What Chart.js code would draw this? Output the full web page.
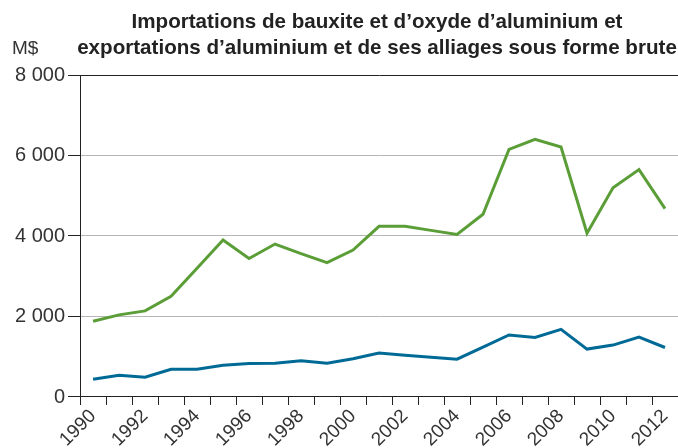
<!DOCTYPE html>
<html>
<head>
<meta charset="utf-8">
<script src="https://cdn.jsdelivr.net/npm/chart.js@4"></script>
<style>
  html, body { margin: 0; padding: 0; background: #fff; overflow: hidden; }
  #wrap { width: 678px; height: 448px; position: relative; }
</style>
</head>
<body>
<div id="wrap"><canvas id="c"></canvas></div>
<script>
const years = ['1990','1991','1992','1993','1994','1995','1996','1997','1998','1999','2000','2001','2002','2003','2004','2005','2006','2007','2008','2009','2010','2011','2012'];
const exportsAlu = [1880, 2040, 2140, 2500, 3200, 3900, 3440, 3800, 3560, 3340, 3650, 4240, 4240, 4140, 4040, 4540, 6150, 6400, 6210, 4070, 5200, 5650, 4680];
const importsBaux = [440, 540, 490, 690, 690, 790, 830, 840, 900, 840, 950, 1090, 1040, 990, 940, 1240, 1540, 1480, 1680, 1190, 1290, 1490, 1230];
const yTicks = [0, 2000, 4000, 6000, 8000];
const titleLines = ['Importations de bauxite et d\u2019oxyde d\u2019aluminium et', 'exportations d\u2019aluminium et de ses alliages sous forme brute'];
const unitLabel = 'M$';

const fmt = v => String(v).replace(/\B(?=(\d{3})+(?!\d))/g, '\u00a0');

const titlePlugin = {
  id: 'customTitle',
  afterDraw(chart) {
    const ctx = chart.ctx;
    const ca = chart.chartArea;
    ctx.save();
    ctx.fillStyle = '#222';
    ctx.textBaseline = 'alphabetic';
    ctx.textAlign = 'center';
    ctx.font = 'bold 20.6px "Liberation Sans", Arial, sans-serif';
    const cx = Math.min((ca.left + ca.right) / 2, 377);
    ctx.fillText(titleLines[0], cx, 28);
    ctx.fillText(titleLines[1], cx, 54);
    ctx.textAlign = 'left';
    ctx.font = '19px "Liberation Sans", Arial, sans-serif';
    ctx.fillStyle = '#333';
    ctx.fillText(unitLabel, 12, 54);
    ctx.restore();
  }
};

new Chart(document.getElementById('c'), {
  type: 'line',
  data: {
    labels: years,
    datasets: [
      { label: 'Exportations', data: exportsAlu, borderColor: '#5b9e38', borderWidth: 3, pointRadius: 0, tension: 0, fill: false },
      { label: 'Importations', data: importsBaux, borderColor: '#006a97', borderWidth: 3, pointRadius: 0, tension: 0, fill: false }
    ]
  },
  options: {
    responsive: true,
    maintainAspectRatio: false,
    animation: false,
    layout: { padding: { left: 12, right: -2, top: 75, bottom: -3 } },
    plugins: { legend: { display: false }, title: { display: false }, tooltip: { enabled: false } },
    scales: {
      x: {
        type: 'category',
        offset: true,
        afterFit: s => { s.paddingRight = 0; },
        grid: { offset: true, drawOnChartArea: false, drawTicks: true, tickLength: 8, tickColor: '#222' },
        border: { color: '#222', width: 1 },
        ticks: {
          autoSkip: false,
          maxRotation: 45,
          minRotation: 45,
          padding: 0,
          color: '#333',
          font: { family: '"Liberation Sans", Arial, sans-serif', size: 19 },
          callback: function(v, i) { return i % 2 === 0 ? years[i] : ''; }
        }
      },
      y: {
        min: 0,
        max: 8000,
        afterBuildTicks: s => { s.ticks = yTicks.map(v => ({ value: v })); },
        grid: {
          color: c => (c.tick && (c.tick.value === 8000 || c.tick.value === 0)) ? '#222' : '#b5b5b5',
          lineWidth: 1,
          tickLength: 12,
          tickColor: '#222'
        },
        border: { color: '#222', width: 1 },
        ticks: {
          padding: 3,
          color: '#333',
          font: { family: '"Liberation Sans", Arial, sans-serif', size: 20 },
          callback: v => fmt(v)
        }
      }
    }
  },
  plugins: [titlePlugin]
});
</script>
</body>
</html>
